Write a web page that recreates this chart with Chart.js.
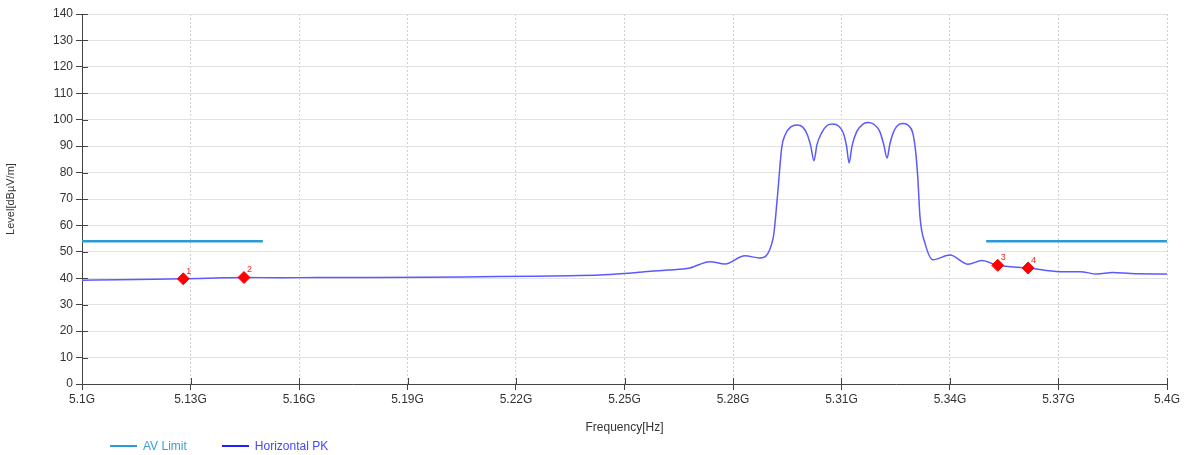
<!DOCTYPE html>
<html>
<head>
<meta charset="utf-8">
<script src="https://cdn.jsdelivr.net/npm/chart.js@4.4.1/dist/chart.umd.min.js"></script>
<style>
  html, body { margin: 0; padding: 0; background: #fff; }
  #wrap { position: relative; width: 1187px; height: 455px; }
  #legend { position: absolute; left: 110px; top: 439px; font: 12px "Liberation Sans", Arial, sans-serif; display: flex; align-items: center; }
  .item { display: flex; align-items: center; margin-right: 35px; }
  .swatch { width: 27px; height: 2px; margin-right: 6px; }
</style>
</head>
<body>
<div id="wrap">
  <canvas id="chart" width="1187" height="455"></canvas>
  <div id="legend">
    <div class="item"><span class="swatch" style="background:#2b9ad6"></span><span style="color:#3a9fd8">AV Limit</span></div>
    <div class="item"><span class="swatch" style="background:#2020ff"></span><span style="color:#4646ff">Horizontal PK</span></div>
  </div>
</div>
<script>
// frequencies in GHz
const pkFreq = [5.100, 5.110, 5.120, 5.128, 5.137, 5.145, 5.155, 5.165, 5.180, 5.195,
  5.210, 5.225, 5.235, 5.243, 5.250, 5.255, 5.262, 5.268, 5.2736, 5.2778,
  5.2833, 5.2874, 5.2911, 5.2922,
  5.2935, 5.2945, 5.2960, 5.2977, 5.2992, 5.3005, 5.3015, 5.3024,
  5.3032, 5.3045, 5.3060, 5.3076, 5.3092, 5.3105, 5.3114, 5.3121,
  5.3129, 5.3142, 5.3160, 5.3175, 5.3192, 5.3206, 5.3217, 5.3226,
  5.3234, 5.3246, 5.3260, 5.3272, 5.3285, 5.3297, 5.3305, 5.3311,
  5.3317, 5.3331, 5.3353, 5.340, 5.345, 5.3488, 5.3532, 5.3616,
  5.3704, 5.376, 5.3806, 5.385, 5.390, 5.400];
const pkLevel = [39.3, 39.4, 39.6, 39.8, 40.1, 40.3, 40.2, 40.3, 40.3, 40.4,
  40.6, 40.8, 41.0, 41.2, 41.8, 42.4, 43.1, 43.9, 46.3, 45.4,
  48.5, 47.7, 55.2, 69.6,
  89.7, 94.5, 97.3, 98.0, 97.3, 94.5, 90.0, 84.5,
  90.5, 95.0, 97.8, 98.4, 97.6, 95.0, 90.0, 83.6,
  90.0, 95.5, 98.4, 98.9, 98.0, 95.5, 90.5, 85.5,
  91.0, 96.0, 98.3, 98.6, 97.8, 95.0, 88.0, 78.0,
  63.3, 53.2, 47.0, 48.8, 45.3, 46.7, 44.9, 43.9,
  42.5, 42.5, 41.6, 42.2, 41.8, 41.6];

const limitFreq = [5.10, 5.15, 5.15, 5.35, 5.35, 5.40];
const limitLevel = [54, 54, null, null, 54, 54];

const markerFreq = [5.128, 5.1448, 5.3532, 5.3616];
const markerLevel = [39.8, 40.3, 44.9, 43.9];
const markerNames = ["1", "2", "3", "4"];

const xTicks = [5.1, 5.13, 5.16, 5.19, 5.22, 5.25, 5.28, 5.31, 5.34, 5.37, 5.4];

const FONT = "'Liberation Sans', Arial, sans-serif";

const innerTicks = {
  id: "innerTicks",
  afterDraw(chart) {
    const ctx = chart.ctx;
    const xs = chart.scales.x, ys = chart.scales.y;
    const area = chart.chartArea;
    ctx.save();
    ctx.strokeStyle = "#444";
    ctx.lineWidth = 1;
    ctx.beginPath();
    xs.ticks.forEach(t => {
      const px = Math.round(xs.getPixelForValue(t.value)) + 0.5;
      ctx.moveTo(px, area.bottom);
      ctx.lineTo(px, area.bottom - 6);
    });
    ys.ticks.forEach(t => {
      const py = Math.round(ys.getPixelForValue(t.value)) + 0.5;
      ctx.moveTo(area.left, py);
      ctx.lineTo(area.left + 6, py);
    });
    ctx.stroke();
    // marker numbers
    const meta = chart.getDatasetMeta(2);
    ctx.fillStyle = "#ff2020";
    ctx.font = "9px " + FONT;
    meta.data.forEach((pt, i) => {
      ctx.fillText(markerNames[i], pt.x + 3, pt.y - 5);
    });
    ctx.restore();
  }
};

new Chart(document.getElementById("chart"), {
  type: "line",
  data: {
    datasets: [
      {
        label: "AV Limit",
        data: limitFreq.map((f, i) => ({x: f, y: limitLevel[i]})),
        borderColor: "#2b9ad6",
        borderWidth: 2.5,
        pointRadius: 0,
        spanGaps: false,
        order: 2
      },
      {
        label: "Horizontal PK",
        data: pkFreq.map((f, i) => ({x: f, y: pkLevel[i]})),
        borderColor: "#5a5aff",
        borderWidth: 1.5,
        pointRadius: 0,
        cubicInterpolationMode: "monotone",
        order: 1
      },
      {
        label: "Markers",
        data: markerFreq.map((f, i) => ({x: f, y: markerLevel[i]})),
        showLine: false,
        pointStyle: "rectRot",
        pointRadius: 6,
        backgroundColor: "#ff0000",
        borderColor: "#ff0000",
        order: 0
      }
    ]
  },
  options: {
    responsive: false,
    animation: false,
    layout: {padding: {left: 0, right: 20, top: 14, bottom: 0}},
    plugins: {
      legend: {display: false},
      tooltip: {enabled: false}
    },
    scales: {
      x: {
        type: "linear",
        min: 5.1,
        max: 5.4,
        afterBuildTicks: scale => { scale.ticks = xTicks.map(v => ({value: v})); },
        afterFit: scale => { scale.height = 71; },
        ticks: {
          color: "#333",
          font: {family: FONT, size: 12},
          padding: 2,
          maxRotation: 0,
          callback: v => parseFloat(v.toFixed(2)) + "G"
        },
        grid: {color: "#d0d0d0", tickColor: "#444", tickLength: 6, tickBorderDash: []},
        border: {color: "#444", width: 1, dash: [2, 2]},
        title: {display: true, text: "Frequency[Hz]", color: "#333", font: {family: FONT, size: 12}, padding: {top: 4, bottom: 20}}
      },
      y: {
        min: 0,
        max: 140,
        afterFit: scale => { scale.width = 82; },
        ticks: {
          stepSize: 10,
          color: "#333",
          font: {family: FONT, size: 12},
          padding: 3
        },
        grid: {color: "#e2e2e2", tickColor: "#444", tickLength: 6},
        border: {color: "#444", width: 1},
        title: {display: true, text: "Level[dBµV/m]", color: "#333", font: {family: FONT, size: 11}, padding: {bottom: 4}}
      }
    }
  },
  plugins: [innerTicks]
});
</script>
</body>
</html>
